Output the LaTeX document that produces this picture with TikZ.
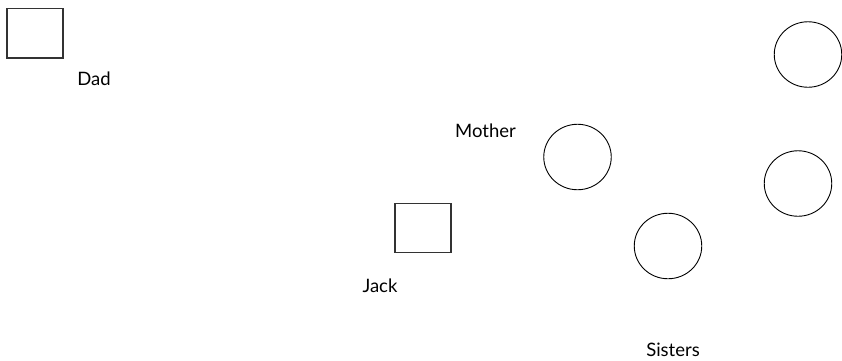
\documentclass[tikz,border=0pt]{standalone}
\usepackage{fontspec}
\setmainfont{Lato}
\usetikzlibrary{shapes.geometric}
\begin{document}
\begin{tikzpicture}[x=1pt,y=-1pt,
  person/.style={draw=black!80,line width=1.1pt,minimum width=56pt,minimum height=49.5pt,inner sep=0pt},
  female/.style={draw=black,line width=0.9pt,ellipse,minimum width=67.5pt,minimum height=65.5pt,inner sep=0pt},
  lbl/.style={font=\fontsize{18.5}{22}\selectfont,inner sep=0pt,anchor=base}]
\useasboundingbox (0,0) rectangle (842,360);
\node[person] (dad) at (35,33.2) {};
\node[person] (jack) at (423,228) {};
\node[female] (mother) at (577.5,157) {};
\node[female] (sis1) at (808,54.5) {};
\node[female] (sis2) at (798,183.5) {};
\node[female] (sis3) at (668,246) {};
\node[lbl] (dadl) at (94,85) {Dad};
\node[lbl] (jackl) at (380,292) {Jack};
\node[lbl] (motherl) at (485.5,137) {Mother};
\node[lbl] (sistersl) at (673,356) {Sisters};
\end{tikzpicture}
\end{document}
